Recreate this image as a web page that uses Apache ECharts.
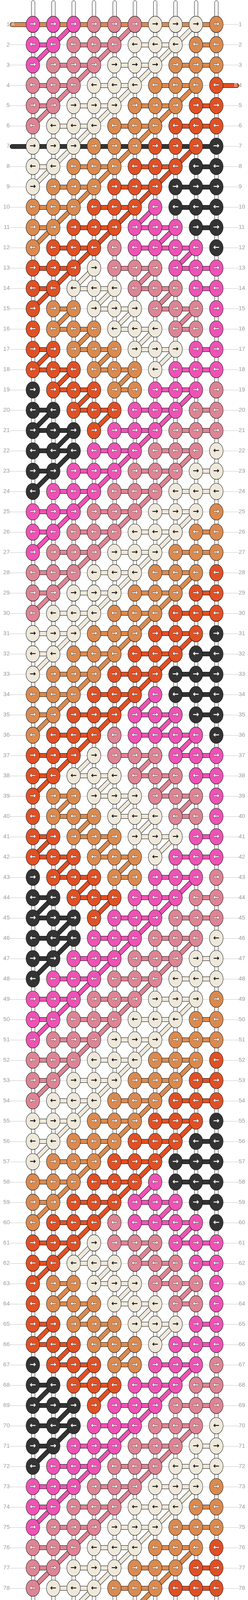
<!DOCTYPE html>
<html><head><meta charset="utf-8">
<script src="https://cdn.jsdelivr.net/npm/echarts@6/dist/echarts.min.js"></script>
<style>html,body{margin:0;padding:0;background:#fff}#c{width:636px;height:5064px}</style>
</head><body><div id="c"></div>
<script>
// Knot colours, one string per row (row 1 at top), one letter per knot (10 columns)
const rows = [
"PPPRRRWWWO","PPRRRWWWOO","PRRRWWWOOO","RRRWWWOOOE","RRWWWOOOEE","RWWWOOOEEE",
"WWWOOOEEEK","WWOOOEEEKK","WOOOEEEKKK","OOOEEEPKKK","OOEEEPPPKK","OEEERPPPPK",
"EEEWRRRPPP","EEWWWRRRPP","EOOWWWRRRP","EOOOWWWRRP","EEOOOWWWPP","EEEOOOWPPP",
"KEEEOOPPPR","KKEEEPPPRR","KKKEPPPRRR","KKKPPPRRRW","KKPPPRRRWW","KPPPRRRWWW",
"PPPRRRWWWO","PPRRRWWWOO","PRRRWWWOOO","RRRWWWOOOE","RRWWWOOOEE","RWWWOOOEEE",
"WWWOOOEEEK","WWOOOEEEKK","WOOOEEEKKK","OOOEEEPKKK","OOEEEPPPKK","OEEERPPPPK",
"EEEWRRRPPP","EEWWWRRRPP","EOOWWWRRRP","EOOOWWWRRP","EEOOOWWWPP","EEEOOOWPPP",
"KEEEOOPPPR","KKEEEPPPRR","KKKEPPPRRR","KKKPPPRRRW","KKPPPRRRWW","KPPPRRRWWW",
"PPPRRRWWWO","PPRRRWWWOO","PRRRWWWOOO","RRRWWWOOOE","RRWWWOOOEE","RWWWOOOEEE",
"WWWOOOEEEK","WWOOOEEEKK","WOOOEEEKKK","OOOEEEPKKK","OOEEEPPPKK","OEEERPPPPK",
"EEEWRRRPPP","EEWWWRRRPP","EOOWWWRRRP","EOOOWWWRRP","EEOOOWWWPP","EEEOOOWPPP",
"KEEEOOPPPR","KKEEEPPPRR","KKKEPPPRRR","KKKPPPRRRW","KKPPPRRRWW","KPPPRRRWWW",
"PPPRRRWWWO","PPRRRWWWOO","PRRRWWWOOO","RRRWWWOOOE","RRWWWOOOEE","RWWWOOOEEE",
"WWWOOOEEEK","WWOOOEEEKK","WOOOEEEKKK","OOOEEEPKKK","OOEEEPPPKK","OEEERPPPPK",
"EEEWRRRPPP","EEWWWRRRPP","EOOWWWRRRP","EOOOWWWRRP","EEOOOWWWPP","EEEOOOWPPP",
"KEEEOOPPPR","KKEEEPPPRR","KKKEPPPRRR","KKKPPPRRRW","KKPPPRRRWW","KPPPRRRWWW"
];
const palette = {P:"#EE52B4",R:"#DE8494",W:"#EFE9DC",O:"#DB8A4F",E:"#E05025",K:"#333333"};
const rowLabels = Array.from({length:96},(_,i)=>i+1);
// working threads entering/leaving at row ends: [row, side, colour, label]
const threadEnds = [[1,"L","O","A"],[4,"R","E","B"],[7,"L","K",""],[91,"R","O",""],[93,"R","E","B"],[96,"L","K","C"]];
const fullThreadRows = [[1,"O",1],[7,"K",1],[91,"O",5],[93,"E",4]];

const NC=10, NR=rows.length;
const knotSeries = [];
for (const key of Object.keys(palette)) {
  const d=[];
  rows.forEach((s,ri)=>{for(let c=0;c<NC;c++) if(s[c]===key) d.push([c+1,ri+1]);});
  knotSeries.push({type:'scatter',z:5,symbol:'circle',symbolSize:[35,42],
    itemStyle:{color:palette[key],borderColor:'#111',borderWidth:1,opacity:1},
    label:{show:true,position:'inside',fontSize:19,fontWeight:'bold',fontFamily:'DejaVu Sans',
      color:key==='W'?'#111':'#fff',textBorderColor:key==='W'?'transparent':'#444',textBorderWidth:key==='W'?0:1.5,
      formatter:p=>(p.value[1]%2===1?'→':'←')},
    emphasis:{disabled:true},silent:true,data:d});
}
const strOut=[];
for(let c=1;c<=NC;c++){strOut.push({coords:[[c,-0.08],[c,97.12]]});}
const conOut=[],conIn=[];
rows.forEach((s,ri)=>{for(let c=0;c<NC-1;c++) if(s[c]===s[c+1]){
  conIn.push({coords:[[c+1,ri+1],[c+2,ri+1]],lineStyle:{color:palette[s[c]]}});
  conOut.push({coords:[[c+1,ri+1],[c+2,ri+1]]});}});
// diagonal threads: right end of a colour band continues to the knot down-left of the same colour
rows.forEach((s,ri)=>{ if(ri+1>=NR) return; const n=rows[ri+1];
  for(let c=1;c<NC-1;c++){ if(s[c]!==s[c+1] && n[c-1]===s[c]){
    conIn.push({coords:[[c+1,ri+1],[c,ri+2]],lineStyle:{color:palette[s[c]]}});
    conOut.push({coords:[[c+1,ri+1],[c,ri+2]]});}}});
fullThreadRows.forEach(([r,k,from])=>{
  conOut.push({coords:[[from,r],[10,r]]});
  conIn.push({coords:[[from,r],[10,r]],lineStyle:{color:palette[k]}});});
const endOut=[],endIn=[],endLbl=[];
threadEnds.forEach(([r,side,k,lab])=>{
  const a = side==='L'?[-0.02,r]:[11.0,r], b = side==='L'?[1,r]:[10,r];
  endOut.push({coords:[a,b]}); endIn.push({coords:[a,b],lineStyle:{color:palette[k]}});
  if(lab) endLbl.push({value:[side==='L'?0.03:10.95,r],label:{formatter:lab}});
});
const gridLines = rowLabels.map(r=>({coords:[[-0.13,r],[11.1,r]]}));

const L=(data,w,color,z,cap)=>({type:'lines',coordinateSystem:'cartesian2d',polyline:false,clip:false,z,silent:true,
  lineStyle:{width:w,color,opacity:1,cap:cap||'butt'},data});
const opt={animation:false,
  grid:{left:32,right:29,top:0,bottom:0},
  xAxis:{type:'value',min:0,max:11,show:false},
  yAxis:[
   {type:'value',min:-0.2,max:97.2,inverse:true,axisLine:{show:false},axisTick:{show:false},splitLine:{show:false},
    axisLabel:{customValues:rowLabels,margin:7,color:'#9a9a9a',fontSize:15,fontFamily:'Liberation Sans'}},
   {type:'value',min:-0.2,max:97.2,inverse:true,position:'right',axisLine:{show:false},axisTick:{show:false},splitLine:{show:false},
    axisLabel:{customValues:rowLabels,margin:5,color:'#9a9a9a',fontSize:15,fontFamily:'Liberation Sans'}}],
  series:[
    L(gridLines,1,'#c8c8c8',0),
    L(strOut,10,'#222',1,'round'),L(strOut,8,'#fff',1,'round'),L(strOut,1,'#cfcfcf',1),
    L(conOut,12,'#111',2),L(conIn,10,'#000',3),
    L(endOut,12,'#111',2,'round'),L(endIn,10,'#000',3,'round'),
    {type:'scatter',z:6,symbolSize:0,silent:true,data:endLbl,
     label:{show:true,position:'inside',color:'#fff',fontSize:12,fontFamily:'Liberation Sans'}},
    ...knotSeries]};
echarts.init(document.getElementById('c')).setOption(opt);
</script></body></html>
